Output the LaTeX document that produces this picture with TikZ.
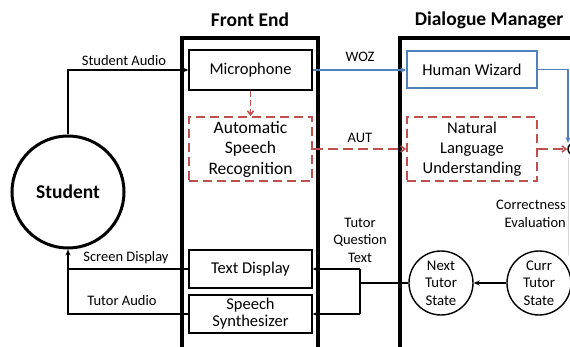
\documentclass[tikz,border=0pt]{standalone}
\usepackage{fontspec}
\setmainfont{Carlito}
\usetikzlibrary{arrows.meta,calc}
\definecolor{wozblue}{RGB}{79,129,189}
\definecolor{autred}{RGB}{192,80,77}
\definecolor{faintgray}{RGB}{215,215,215}
\tikzset{
  boxtext/.style={font=\fontsize{16.5}{20}\selectfont},
  lbl/.style={font=\fontsize{14.5}{17.5}\selectfont, inner sep=0pt, align=center},
  title/.style={font=\fontsize{19.5}{22}\selectfont\bfseries, inner sep=0pt},
  unit/.style={draw, line width=1.4pt, rectangle, inner sep=0pt, boxtext, align=center},
  autobox/.style={unit, draw=autred, line width=1.8pt, dash pattern=on 9pt off 5pt},
  wozbox/.style={unit, draw=wozblue},
  frame/.style={draw, line width=3.5pt},
  state/.style={draw, circle, line width=1.4pt, minimum size=64pt, inner sep=0pt, align=center,
                font=\fontsize{14.8}{17.5}\selectfont},
  arr/.style={line width=1.4pt, -{Stealth[length=6pt,width=5pt]}},
  link/.style={line width=1.4pt},
  autarr/.style={line width=2.4pt, draw=autred, dash pattern=on 10pt off 5pt,
                 -{Straight Barb[length=4pt,width=6pt,line width=1.6pt]}},
  wozarr/.style={arr, draw=wozblue}
}
\begin{document}
\begin{tikzpicture}[x=1pt,y=-1pt]
\useasboundingbox (0,0) rectangle (570,347);
\clip (0,0) rectangle (570,347);

% module frames
\draw[frame] (182,360) -- (182,38) -- (318,38) -- (318,360);
\draw[frame] (400,360) -- (400,38) -- (620,38);
\node[title] (fe) at (250,20) {Front End};
\node[title] (dm) at (489,20) {Dialogue Manager};

% student
\node[draw, circle, line width=3pt, minimum size=112pt, inner sep=0pt,
      font=\fontsize{19.5}{22}\selectfont\bfseries] (student) at (68,192) {Student};

% front end units
\node[unit, minimum width=123pt, minimum height=40pt] (mic) at (250.5,70) {Microphone};
\node[autobox, minimum width=123pt, minimum height=64pt,
      font=\fontsize{17.5}{20.5}\selectfont] (asr) at (250.5,149)
      {Automatic\\Speech\\Recognition};
\node[unit, minimum width=123pt, minimum height=38pt] (tdisp) at (250.5,269) {Text Display};
\node[unit, minimum width=123pt, minimum height=38pt] (synth) at (250.5,314)
      {Speech\\[-3pt]Synthesizer};

% dialogue manager units
\node[wozbox, minimum width=130pt, minimum height=37pt] (wiz) at (472,69.5) {Human Wizard};
\node[autobox, minimum width=130pt, minimum height=64pt] (nlu) at (472,149)
      {Natural\\Language\\Understanding};
\node[draw, circle, line width=1.4pt, minimum size=12pt, inner sep=0pt] (eval) at (574,149) {};
\node[state] (next) at (441,283) {Next\\Tutor\\State};
\node[state] (curr) at (539,283) {Curr\\Tutor\\State};
\node[lbl, anchor=east, align=right] (evlbl) at (566,214) {Correctness\\Evaluation};

% student input
\draw[arr] (student.north) |- (mic.west);
\node[lbl] (salbl) at (124,61) {Student Audio};
\draw[autarr, line width=1.6pt, dash pattern=on 6pt off 3pt] (mic.south) -- (asr.north);

% wizard-of-oz path
\draw[wozarr] (mic.east) -- (mic.east -| wiz.west);
\node[lbl] (wozlbl) at (360,57) {WOZ};
\coordinate (evtop) at (568,143);
\draw[wozarr] (wiz.east) -| (evtop);

% automatic path
\draw[autarr] (asr.east) -- (asr.east -| nlu.west);
\node[lbl] (autlbl) at (360,138) {AUT};
\draw[autarr] (nlu.east) -- (eval.west);

% evaluation feed to tutor state
\draw[faintgray, line width=1pt] (568,158) -- (568,255);
\coordinate (cin) at (585,280);
\draw[arr] (cin) -- (curr.east);

% tutor state output
\draw[arr] (curr.west) -- (next.east);
\coordinate (split) at (360,283);
\draw[link] (next.west) -- (split);
\draw[link] (360,269) -- (360,314);
\draw[arr] (360,269) -- (tdisp.east);
\draw[arr] (360,314) -- (synth.east);
\node[lbl] (tqlbl) at (360,240) {Tutor\\Question\\Text};

% output to student
\draw[arr] (tdisp.west) -| (student.south);
\draw[link] (synth.west) -| (68,269);
\node[lbl] (sdlbl) at (126,258) {Screen Display};
\node[lbl] (talbl) at (122,301) {Tutor Audio};
\end{tikzpicture}
\end{document}
